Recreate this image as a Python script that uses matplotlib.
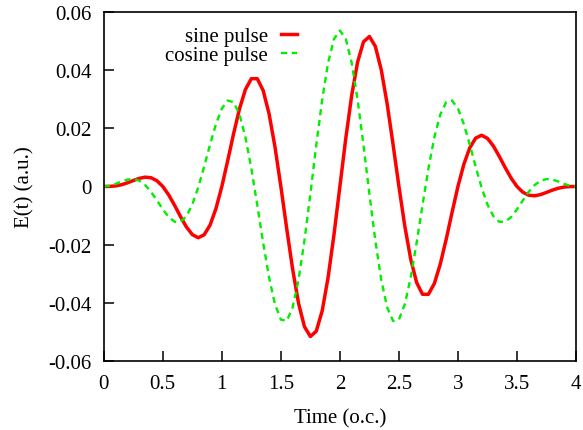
import numpy as np
import matplotlib
matplotlib.use("Agg")
import matplotlib.pyplot as plt

# sample times (o.c.), 0.05 step
time_oc = np.linspace(0.0, 4.0, 81)

sine_pulse = [
    0.0, 0.00003, 0.00019, 0.00060, 0.00125, 0.00204, 0.00278, 0.00320, 0.00301, 0.00198,
    0.0, -0.00290, -0.00649, -0.01035, -0.01392, -0.01654, -0.01761, -0.01662, -0.01329, -0.00763,
    0.0, 0.00893, 0.01822, 0.02674, 0.03336, 0.03706, 0.03706, 0.03301, 0.02501, 0.01366,
    0.0, -0.01458, -0.02850, -0.04017, -0.04820, -0.05156, -0.04973, -0.04276, -0.03131, -0.01654,
    0.0,
    0.01654, 0.03131, 0.04276, 0.04973, 0.05156, 0.04820, 0.04017, 0.02850, 0.01458, 0.0,
    -0.01366, -0.02501, -0.03301, -0.03706, -0.03706, -0.03336, -0.02674, -0.01822, -0.00893, 0.0,
    0.00763, 0.01329, 0.01662, 0.01761, 0.01654, 0.01392, 0.01035, 0.00649, 0.00290, 0.0,
    -0.00198, -0.00301, -0.00320, -0.00278, -0.00204, -0.00125, -0.00060, -0.00019, -0.00003, 0.0,
]

cosine_pulse = [
    0.0, 0.00024, 0.00088, 0.00170, 0.00237, 0.00256, 0.00199, 0.00051, -0.00183, -0.00476,
    -0.00785, -0.01051, -0.01212, -0.01214, -0.01020, -0.00619, -0.00034, 0.00680, 0.01440, 0.02142,
    0.02680, 0.02955, 0.02896, 0.02470, 0.01690, 0.00619, -0.00636, -0.01936, -0.03124, -0.04047,
    -0.04575, -0.04621, -0.04154, -0.03202, -0.01855, -0.00256, 0.01419, 0.02980, 0.04248, 0.05074,
    0.05360,
    0.05074, 0.04248, 0.02980, 0.01419, -0.00256, -0.01855, -0.03202, -0.04154, -0.04621, -0.04575,
    -0.04047, -0.03124, -0.01936, -0.00636, 0.00619, 0.01690, 0.02470, 0.02896, 0.02955, 0.02680,
    0.02142, 0.01440, 0.00680, -0.00034, -0.00619, -0.01020, -0.01214, -0.01212, -0.01051, -0.00785,
    -0.00476, -0.00183, 0.00051, 0.00199, 0.00256, 0.00237, 0.00170, 0.00088, 0.00024, 0.0,
]

x_ticks = [0, 0.5, 1, 1.5, 2, 2.5, 3, 3.5, 4]
x_labels = ["0", "0.5", "1", "1.5", "2", "2.5", "3", "3.5", "4"]
y_ticks = [-0.06, -0.04, -0.02, 0, 0.02, 0.04, 0.06]
y_labels = ["-0.06", "-0.04", "-0.02", "0", "0.02", "0.04", "0.06"]

plt.rcParams["font.family"] = ["Liberation Serif", "DejaVu Serif"]
plt.rcParams["font.size"] = 15

fig = plt.figure(figsize=(5.83, 4.31), dpi=100)
ax = fig.add_axes([0.178, 0.160, 0.810, 0.810])

ax.plot(time_oc, sine_pulse, "-", color="#ff0000", lw=2.5, label="sine pulse")
ax.plot(time_oc, cosine_pulse, "--", color="#00ee00", lw=1.7, dashes=(2.6, 2.0), label="cosine pulse")

ax.set_xlim(0, 4); ax.set_ylim(-0.06, 0.06)
ax.set_xticks(x_ticks); ax.set_xticklabels(x_labels)
ax.set_yticks(y_ticks); ax.set_yticklabels(y_labels)
ax.tick_params(direction="in", length=7.5, width=1.1)
ax.tick_params(axis="x", pad=9)
ax.tick_params(axis="y", pad=9)
for sp in ax.spines.values():
    sp.set_linewidth(1.2)
ax.set_xlabel("Time (o.c.)", labelpad=11)
ax.set_ylabel("E(t) (a.u.)", labelpad=10)

ax.legend(loc="upper right", bbox_to_anchor=(0.409, 0.959), frameon=False, markerfirst=False,
          handlelength=0.77, handletextpad=0.62, labelspacing=0.0, borderpad=0.0, borderaxespad=0.0)

fig.savefig("out.png", dpi=100)
